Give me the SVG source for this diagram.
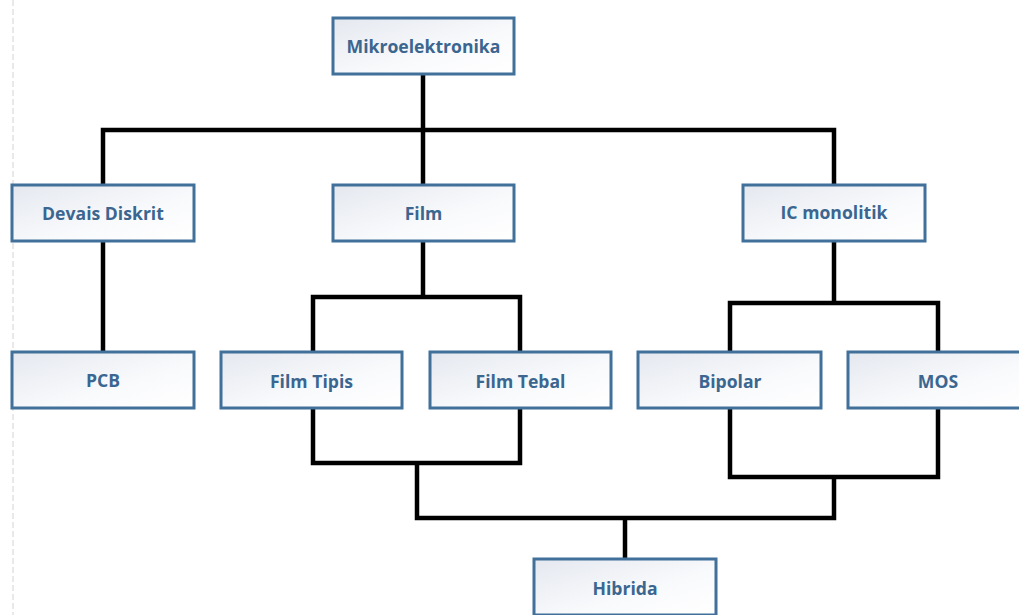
<svg xmlns="http://www.w3.org/2000/svg" width="1019" height="615" viewBox="0 0 1019 615">
<defs>
<linearGradient id="g" x1="0" y1="0" x2="1" y2="1">
<stop offset="0" stop-color="#e4e8ef"/>
<stop offset="0.6" stop-color="#f9fafc"/>
<stop offset="1" stop-color="#ffffff"/>
</linearGradient>
</defs>
<style>
.box{fill:url(#g);stroke:#41709a;stroke-width:3}
.lbl{font-family:"Open Sans","Liberation Sans",sans-serif;font-weight:700;font-size:17.6px;fill:#3b6690;text-anchor:middle}
.c{fill:none;stroke:#000;stroke-width:4.5;stroke-linejoin:miter}
</style>
<rect width="1019" height="615" fill="#ffffff"/>
<line x1="13" y1="0" x2="13" y2="615" stroke="#e2e2e2" stroke-width="1.5" stroke-dasharray="6 3"/>
<g id="connectors">
<path class="c" d="M423 74V130M103 185V130H834V185M423 130V185"/>
<path class="c" d="M103 241V352"/>
<path class="c" d="M423 241V297M313 352V297H520V352"/>
<path class="c" d="M834 241V303M730 352V303H938V352"/>
<path class="c" d="M313 408V463H520V408M417 463V518H834V477"/>
<path class="c" d="M730 408V477H938V408"/>
<path class="c" d="M625 518V559"/>
</g>
<g id="n-mikro"><rect class="box" x="333" y="18" width="181" height="56"/><text class="lbl" x="423.5" y="53">Mikroelektronika</text></g>
<g id="n-devais"><rect class="box" x="12" y="185" width="182" height="56"/><text class="lbl" x="103" y="220">Devais Diskrit</text></g>
<g id="n-film"><rect class="box" x="333" y="185" width="181" height="56"/><text class="lbl" x="423.5" y="220">Film</text></g>
<g id="n-ic"><rect class="box" x="743" y="185" width="182" height="56"/><text class="lbl" x="834" y="219">IC monolitik</text></g>
<g id="n-pcb"><rect class="box" x="12" y="352" width="182" height="56"/><text class="lbl" x="103" y="387">PCB</text></g>
<g id="n-tipis"><rect class="box" x="221" y="352" width="181" height="56"/><text class="lbl" x="311.5" y="388">Film Tipis</text></g>
<g id="n-tebal"><rect class="box" x="430" y="352" width="181" height="56"/><text class="lbl" x="520.5" y="388">Film Tebal</text></g>
<g id="n-bipolar"><rect class="box" x="638" y="352" width="183" height="56"/><text class="lbl" x="730" y="388">Bipolar</text></g>
<g id="n-mos"><rect class="box" x="848" y="352" width="182" height="56"/><text class="lbl" x="938" y="388">MOS</text></g>
<g id="n-hibrida"><rect class="box" x="534" y="559" width="182" height="56"/><text class="lbl" x="625" y="595">Hibrida</text></g>
</svg>
